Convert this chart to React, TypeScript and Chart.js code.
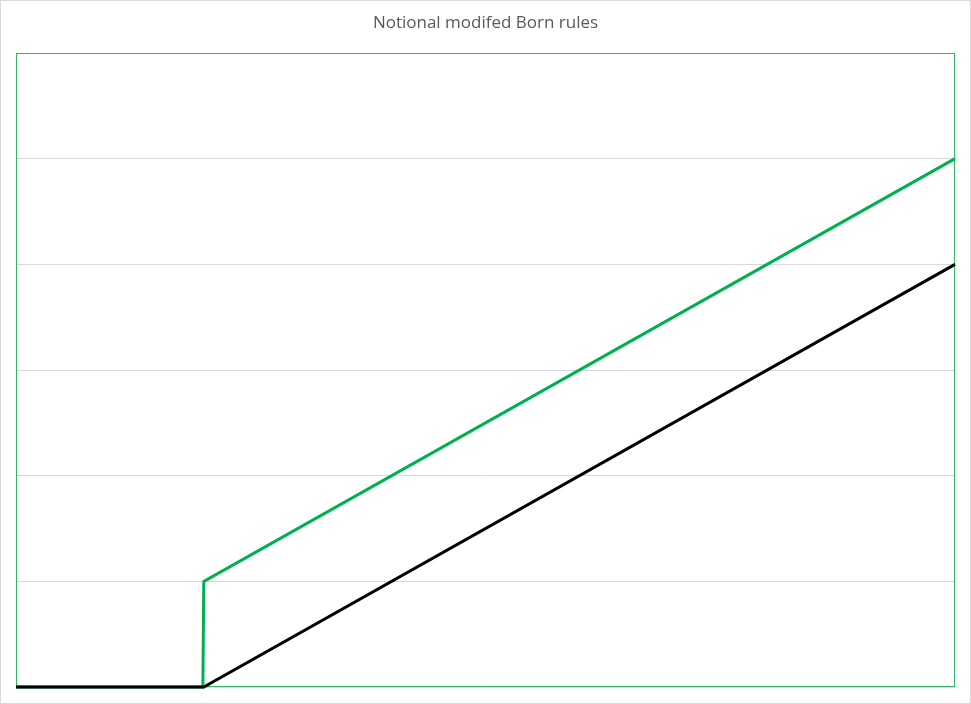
import { Chart, registerables } from 'chart.js'
import { useEffect, useRef } from 'react'

Chart.register(...registerables)

// Notional curves (x normalised 0..1, y in gridline units)
const titleText = 'Notional modifed Born rules'
const modifiedX = [0, 0.199, 0.2, 1]
const modifiedY = [0, 0, 1, 5]
const bornX = [0, 0.2, 1]
const bornY = [0, 0, 4]
const yMax = 6

// draws the green frame around the plot area, under the lines
const plotBorder = {
  id: 'plotBorder',
  beforeDatasetsDraw(chart) {
    const { ctx, chartArea } = chart
    ctx.save()
    ctx.strokeStyle = '#33b864'
    ctx.lineWidth = 1
    ctx.strokeRect(
      Math.round(chartArea.left) + 0.5,
      Math.round(chartArea.top) + 0.5,
      Math.round(chartArea.right - chartArea.left) - 1,
      Math.round(chartArea.bottom - chartArea.top) - 1
    )
    ctx.restore()
  },
}

const BornRulesChart = () => {
  const chartRef = useRef<HTMLCanvasElement | null>(null)

  useEffect(() => {
    document.body.style.margin = '0'
    const ctx = chartRef.current?.getContext('2d')
    if (!ctx) return

    const chart = new Chart(ctx, {
      type: 'line',
      data: {
        datasets: [
          {
            label: 'Born',
            data: bornX.map((x, i) => ({ x, y: bornY[i] })),
            borderColor: '#000000',
            borderWidth: 3,
            pointRadius: 0,
            tension: 0,
            clip: false,
          },
          {
            label: 'Modified',
            data: modifiedX.map((x, i) => ({ x, y: modifiedY[i] })),
            borderColor: '#00b050',
            borderWidth: 3,
            pointRadius: 0,
            tension: 0,
            clip: false,
          },
        ],
      },
      options: {
        animation: false,
        responsive: false,
        devicePixelRatio: 1,
        layout: {
          padding: { left: 15, right: 15, top: 0, bottom: 16 },
        },
        plugins: {
          legend: { display: false },
          tooltip: { enabled: false },
          title: {
            display: true,
            text: titleText,
            color: '#595959',
            font: { family: 'Open Sans', size: 17, weight: 'normal', lineHeight: 1.2 },
            padding: { top: 12, bottom: 19.6 },
          },
        },
        scales: {
          x: {
            type: 'linear',
            min: 0,
            max: 1,
            display: false,
          },
          y: {
            min: 0,
            max: yMax,
            ticks: { display: false, stepSize: 1 },
            grid: { color: '#d9d9d9', lineWidth: 1, drawTicks: false },
            border: { display: false },
          },
        },
      },
      plugins: [plotBorder],
    })

    return () => {
      chart.destroy()
    }
  }, [])

  return (
    <div
      style={{
        position: 'absolute',
        left: 0,
        top: 0,
        width: 971,
        height: 704,
        boxSizing: 'border-box',
        border: '1px solid #d9d9d9',
        background: '#ffffff',
      }}
    >
      <canvas ref={chartRef} width={969} height={702} style={{ display: 'block' }} />
    </div>
  )
}

export default function App() {
  return <BornRulesChart />
}
